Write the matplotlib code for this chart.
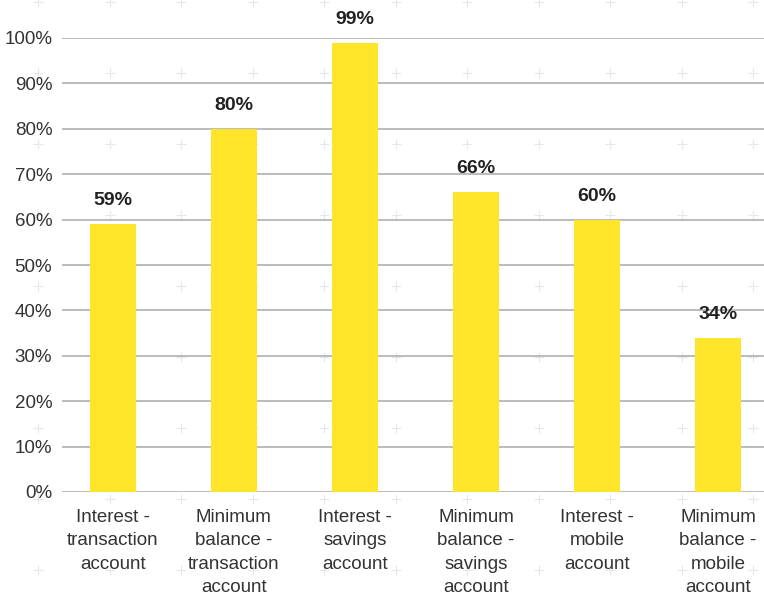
import numpy as np
import matplotlib
matplotlib.use("Agg")
import matplotlib.pyplot as plt

categories = [
    "Interest -\ntransaction\naccount",
    "Minimum\nbalance -\ntransaction\naccount",
    "Interest -\nsavings\naccount",
    "Minimum\nbalance -\nsavings\naccount",
    "Interest -\nmobile\naccount",
    "Minimum\nbalance -\nmobile\naccount",
]
values = [59, 80, 99, 66, 60, 34]
yticks = [0, 10, 20, 30, 40, 50, 60, 70, 80, 90, 100]

plt.rcParams['font.family'] = ['Liberation Sans', 'DejaVu Sans']

fig = plt.figure(figsize=(7.64, 5.98), dpi=100)

# faint "+" texture behind the chart
bg = fig.add_axes([0, 0, 1, 1], zorder=0)
bg.set_xlim(0, 764)
bg.set_ylim(598, 0)
bg.axis("off")
px, py = np.meshgrid(np.arange(38, 764, 71.5), np.arange(2, 598, 71))
bg.scatter(px.ravel(), py.ravel(), marker="+", s=60, color="#c8d2e0",
           linewidths=0.8, alpha=0.5)

ax = fig.add_axes([62 / 764, 1 - 492 / 598, 702 / 764, 454 / 598], zorder=1)
ax.patch.set_alpha(0)

x = np.arange(len(categories))
ax.bar(x, values, width=0.38, color="#FFE52A", zorder=2)

for xi, v in zip(x, values):
    ax.text(xi, v + 3.3, f"{v}%", ha="center", va="bottom",
            fontsize=14, fontweight="bold", color="#222222")

ax.set_xlim(-0.42, 5.38)
ax.set_ylim(0, 100)
ax.set_yticks(yticks)
ax.set_yticklabels([f"{t}%" for t in yticks])
ax.set_xticks(x)
ax.set_xticklabels(categories, va="top", linespacing=1.5)

ax.grid(axis="y", color="#b0b0b0", linewidth=1.2, zorder=1)
ax.set_axisbelow(True)
for s in ax.spines.values():
    s.set_visible(False)
ax.tick_params(axis="both", length=0, labelsize=13.5, colors="#333333")
ax.tick_params(axis="y", pad=7)
ax.tick_params(axis="x", pad=12)

fig.savefig("out.png", dpi=100)
